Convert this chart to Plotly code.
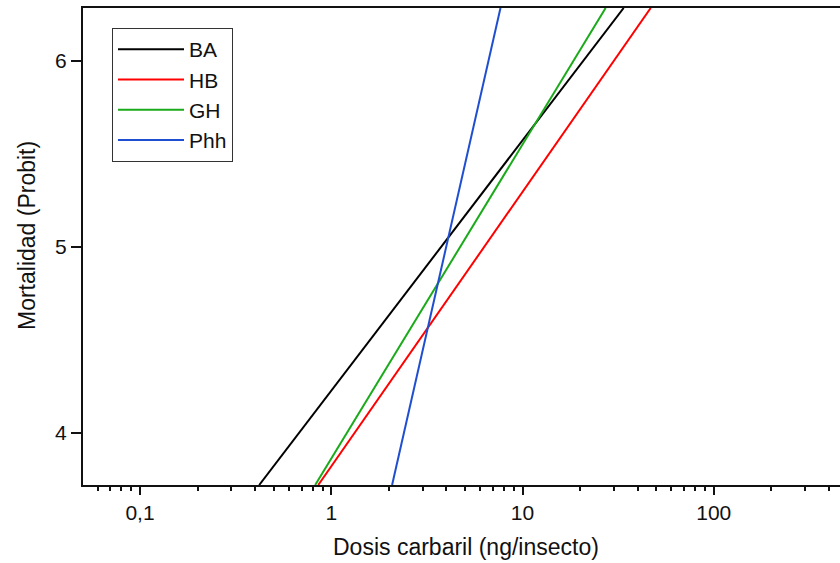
import plotly.graph_objects as go

# Series: endpoints of the probit regression lines (dose, probit)
series_names = ["BA", "HB", "GH", "Phh"]
series_colors = ["#000000", "#ff0000", "#1aaa1a", "#1f4fd0"]
ba_x = [0.42, 33.8]
ba_y = [3.72, 6.285]
hb_x = [0.855, 46.8]
hb_y = [3.72, 6.285]
gh_x = [0.824, 27.2]
gh_y = [3.72, 6.285]
phh_x = [2.08, 7.67]
phh_y = [3.72, 6.285]

x_tickvals = [0.1, 1, 10, 100]
x_ticktext = ["0,1", "1", "10", "100"]
x_minor = [0.06, 0.07, 0.08, 0.09,
           0.2, 0.3, 0.4, 0.5, 0.6, 0.7, 0.8, 0.9,
           2, 3, 4, 5, 6, 7, 8, 9,
           20, 30, 40, 50, 60, 70, 80, 90,
           200, 300, 400]
y_tickvals = [4, 5, 6]
x_title = "Dosis carbaril (ng/insecto)"
y_title = "Mortalidad (Probit)"

xs = [ba_x, hb_x, gh_x, phh_x]
ys = [ba_y, hb_y, gh_y, phh_y]

fig = go.Figure()
for name, color, x, y in zip(series_names, series_colors, xs, ys):
    fig.add_trace(go.Scatter(x=x, y=y, mode="lines", name=name,
                             line=dict(color=color, width=2)))

font = "Liberation Sans, Arial, sans-serif"
ink = "#111"
fig.update_layout(
    width=840, height=563,
    margin=dict(l=83, r=0, t=8, b=78),
    plot_bgcolor="white", paper_bgcolor="white",
    font=dict(family=font, size=21, color=ink),
    showlegend=True,
    legend=dict(x=0.0383, y=0.958, xanchor="left", yanchor="top",
                bordercolor="#333", borderwidth=1, bgcolor="white",
                itemwidth=66, tracegroupgap=0, entrywidth=128,
                font=dict(size=21, color=ink)),
    xaxis=dict(type="log", range=[-1.298, 2.66],
               tickmode="array", tickvals=x_tickvals, ticktext=x_ticktext,
               ticks="outside", ticklen=8, tickwidth=2, tickcolor=ink,
               showline=True, linewidth=2, linecolor=ink, mirror=True,
               showgrid=False, zeroline=False,
               tickfont=dict(size=21),
               minor=dict(tickmode="array", tickvals=x_minor, ticks="outside",
                          ticklen=4, tickwidth=2, tickcolor=ink, showgrid=False)),
    yaxis=dict(range=[3.72, 6.285], tickmode="array", tickvals=y_tickvals,
               ticks="outside", ticklen=10, tickwidth=2, tickcolor=ink,
               showline=True, linewidth=2, linecolor=ink,
               showgrid=False, zeroline=False,
               tickfont=dict(size=21)),
    annotations=[
        dict(text=x_title, xref="paper", yref="paper", x=0.506, y=-0.13,
             xanchor="center", yanchor="middle", showarrow=False,
             font=dict(size=23, color=ink)),
        dict(text=y_title, xref="paper", yref="paper", x=0, y=0.522,
             xshift=-56, xanchor="center", yanchor="middle", textangle=-90,
             showarrow=False, font=dict(size=23, color=ink)),
    ],
)

fig.write_html("out.html", config={"displayModeBar": False},
               post_script="document.body.style.margin='0';"
                           "document.body.style.overflow='hidden';")
